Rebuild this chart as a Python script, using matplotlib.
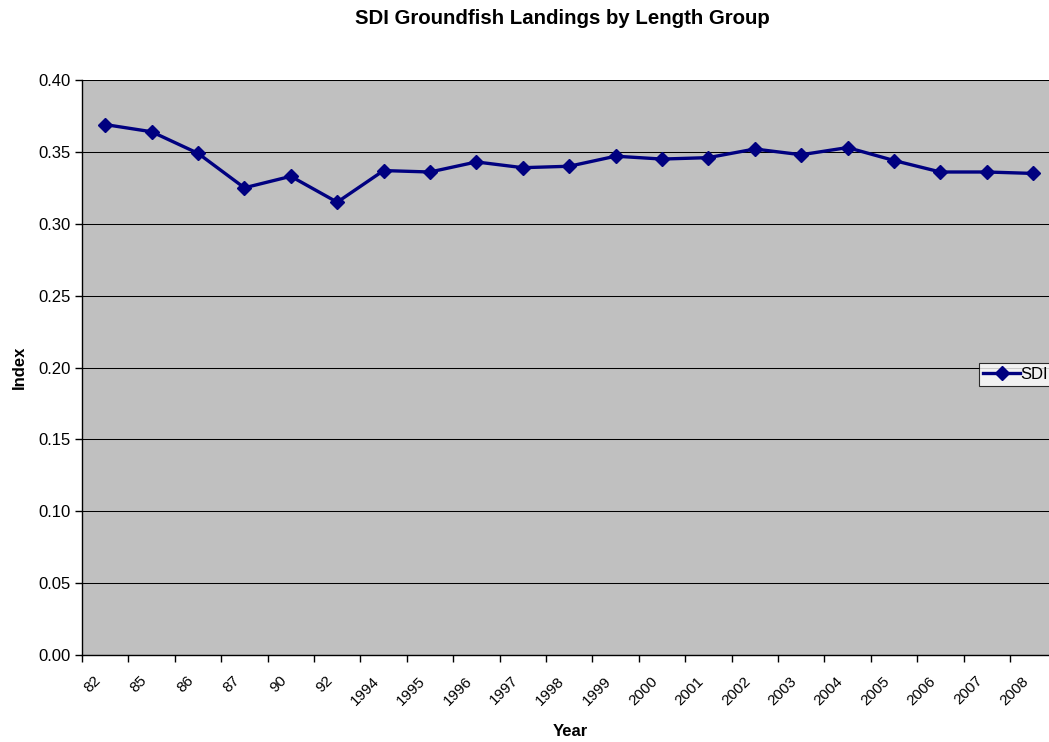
import numpy as np
import matplotlib.pyplot as plt

plt.rcParams['font.family'] = ['Liberation Sans', 'DejaVu Sans']

years = ['82', '85', '86', '87', '90', '92', '1994', '1995', '1996', '1997',
         '1998', '1999', '2000', '2001', '2002', '2003', '2004', '2005',
         '2006', '2007', '2008']
sdi = [0.369, 0.364, 0.349, 0.325, 0.333, 0.315, 0.337, 0.336, 0.343, 0.339,
       0.340, 0.347, 0.345, 0.346, 0.352, 0.348, 0.353, 0.344, 0.336, 0.336,
       0.335]

W, H = 1049, 742
fig = plt.figure(figsize=(W / 100, H / 100), dpi=100)
# plot area runs off the right edge like the spreadsheet export
left, top, bottom = 82, 80, 655
width = 46.4 * len(years)
ax = fig.add_axes([left / W, 1 - bottom / H, width / W, (bottom - top) / H])
ax.set_facecolor('#C0C0C0')

x = np.arange(len(years))
ax.plot(x, sdi, color='#000080', lw=2.4, marker='D', markersize=7.5,
        label='SDI', zorder=3)

ax.set_xlim(-0.5, len(years) - 0.5)
ax.set_ylim(0, 0.40)
ax.set_yticks(np.arange(0, 0.401, 0.05))
ax.set_yticklabels(['%.2f' % v for v in np.arange(0, 0.401, 0.05)], fontsize=12)
ax.yaxis.grid(True, color='black', lw=0.75)
ax.set_axisbelow(True)

# ticks on category boundaries, labels on category centres
ax.set_xticks(np.arange(len(years) + 1) - 0.5)
ax.set_xticklabels([])
ax.tick_params(axis='x', length=5, width=1, direction='out')
ax.tick_params(axis='y', length=5, width=1, direction='out', pad=3)
for xi, lab in zip(x, years):
    ax.text(xi - 0.25, -0.013, lab, rotation=45, ha='right', va='top',
            rotation_mode='anchor', fontsize=11, transform=ax.transData)

for s in ['top', 'right']:
    ax.spines[s].set_visible(False)
ax.spines['left'].set_linewidth(1)
ax.spines['bottom'].set_linewidth(1)

fig.text(562 / W, 1 - 18 / H, 'SDI Groundfish Landings by Length Group',
         ha='center', va='center', fontsize=14.7, fontweight='bold')
fig.text(19 / W, 1 - 367 / H, 'Index', rotation=90, ha='center',
         va='center', fontsize=12, fontweight='bold')
fig.text(570 / W, 1 - 731 / H, 'Year', ha='center', va='center',
         fontsize=12, fontweight='bold')

leg = fig.legend(loc='upper left', bbox_to_anchor=(979 / W, 1 - 363 / H),
                 fontsize=12, frameon=True, fancybox=False, borderpad=0.25,
                 handlelength=2.2, handletextpad=0.05, borderaxespad=0)
leg.get_frame().set_edgecolor('black')
leg.get_frame().set_linewidth(0.8)

fig.savefig('out.png', dpi=100)
